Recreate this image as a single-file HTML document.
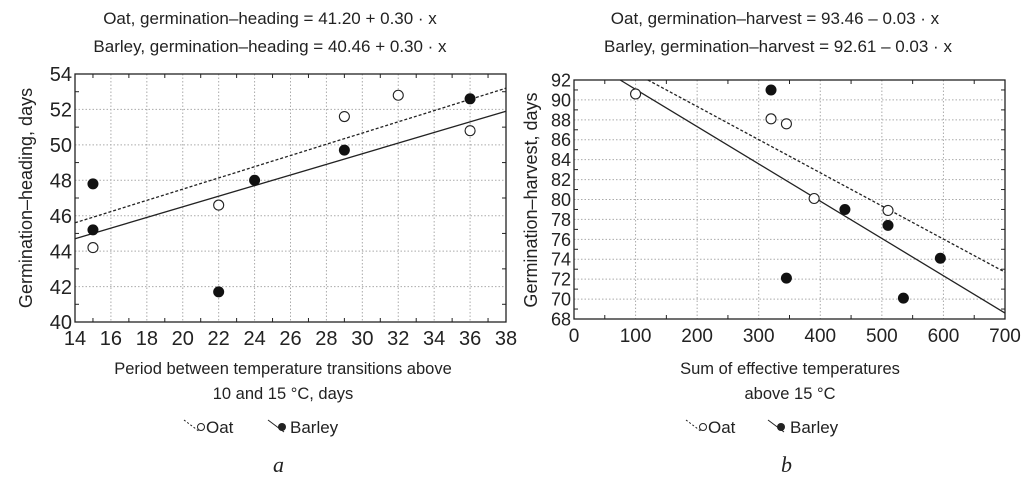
<!DOCTYPE html>
<html><head><meta charset="utf-8"><style>
body{margin:0;background:#fff;width:1024px;height:479px;overflow:hidden}
svg text{font-family:"Liberation Sans Narrow","Liberation Sans",sans-serif;fill:#222}
</style></head><body>
<svg width="1024" height="479">
<text x="270" y="24" font-size="17" text-anchor="middle">Oat, germination–heading = 41.20 + 0.30 · x</text>
<text x="270" y="52" font-size="17" text-anchor="middle">Barley, germination–heading = 40.46 + 0.30 · x</text>
<text x="775" y="24" font-size="17" text-anchor="middle">Oat, germination–harvest = 93.46 – 0.03 · x</text>
<text x="778" y="52" font-size="17" text-anchor="middle">Barley, germination–harvest = 92.61 – 0.03 · x</text>
<g id="ca"></g>
<g id="cb"></g>
<text x="283" y="374" font-size="16.5" text-anchor="middle">Period between temperature transitions above</text>
<text x="283" y="399" font-size="16.5" text-anchor="middle">10 and 15 °C, days</text>
<text x="790" y="374" font-size="16.5" text-anchor="middle">Sum of effective temperatures</text>
<text x="790" y="399" font-size="16.5" text-anchor="middle">above 15 °C</text>
<text x="32" y="198" font-size="18" text-anchor="middle" transform="rotate(-90 32 198)">Germination–heading, days</text>
<text x="537" y="200" font-size="18" text-anchor="middle" transform="rotate(-90 537 200)">Germination–harvest, days</text>
<g>
<line x1="184" y1="420" x2="200" y2="432" stroke="#222" stroke-dasharray="2,2"/><circle cx="201" cy="427" r="3.5" fill="#fff" stroke="#222"/><text x="206" y="433" font-size="17">Oat</text>
<line x1="268" y1="420" x2="284" y2="432" stroke="#222"/><circle cx="282" cy="427" r="4" fill="#222"/><text x="290" y="433" font-size="17">Barley</text></g>
<g>
<line x1="686" y1="420" x2="702" y2="432" stroke="#222" stroke-dasharray="2,2"/><circle cx="703" cy="427" r="3.5" fill="#fff" stroke="#222"/><text x="708" y="433" font-size="17">Oat</text>
<line x1="768" y1="420" x2="784" y2="432" stroke="#222"/><circle cx="781" cy="427" r="4" fill="#222"/><text x="790" y="433" font-size="17">Barley</text></g>
<text x="273" y="472" font-size="22" font-style="italic" style="font-family:'Liberation Serif',serif">a</text>
<text x="781" y="472" font-size="22" font-style="italic" style="font-family:'Liberation Serif',serif">b</text>
</svg>
<script>
const aOatX=[15,22,29,32,36], aOatY=[44.2,46.6,51.6,52.8,50.8];
const aBarX=[15,15,22,24,29,36], aBarY=[47.8,45.2,41.7,48,49.7,52.6];
const aOatFit=[45.6,53.2], aBarFit=[44.7,51.9];
const aXTicks=[14,16,18,20,22,24,26,28,30,32,34,36,38], aYTicks=[40,42,44,46,48,50,52,54];
const bOatX=[100,320,345,390,510], bOatY=[90.6,88.1,87.6,80.1,78.9];
const bBarX=[320,345,440,510,535,595], bBarY=[91,72.1,79,77.4,70.1,74.1];
const bOatFitX=[120,700], bOatFitY=[92,72.7], bBarFitX=[75,700], bBarFitY=[92,68.6];
const bXTicks=[0,100,200,300,400,500,600,700], bYTicks=[68,70,72,74,76,78,80,82,84,86,88,90,92];
const NS='http://www.w3.org/2000/svg';
function mk(g,t,at){const e=document.createElementNS(NS,t);for(const k in at)e.setAttribute(k,at[k]);g.appendChild(e);return e;}
function chart(g,L,R,T,B,x0,x1,y0,y1,xt,yt,oX,oY,bX,bY,oL,bL,fx,fy){
 const sx=v=>L+(v-x0)/(x1-x0)*(R-L), sy=v=>B-(v-y0)/(y1-y0)*(B-T);
 xt.forEach((v,i)=>{const l=mk(g,'line',{x1:sx(v),x2:sx(v),y1:T,y2:B,stroke:'#aaa','stroke-dasharray':'1.5,2'});
 
 if(i<xt.length-1){const m=(sx(v)+sx(xt[i+1]))/2;mk(g,'line',{x1:m,x2:m,y1:B,y2:B-4,stroke:'#222'});mk(g,'line',{x1:m,x2:m,y1:T,y2:T+4,stroke:'#222'});}
 const t=mk(g,'text',{x:sx(v),y:B+23,'font-size':fx,'text-anchor':'middle'});t.textContent=v;
 });
 yt.forEach((v,i)=>{const l=mk(g,'line',{x1:L,x2:R,y1:sy(v),y2:sy(v),stroke:'#aaa','stroke-dasharray':'1.5,2'});
 
 if(i<yt.length-1){const m=(sy(v)+sy(yt[i+1]))/2;mk(g,'line',{x1:L,x2:L+4,y1:m,y2:m,stroke:'#222'});mk(g,'line',{x1:R,x2:R-4,y1:m,y2:m,stroke:'#222'});}
 const t=mk(g,'text',{x:L-3,y:sy(v)+fy*0.36,'font-size':fy,'text-anchor':'end'});t.textContent=v;
 });
 const fr=mk(g,'rect',{x:L,y:T,width:R-L,height:B-T,fill:'none',stroke:'#222','stroke-width':1.3});
 
 const lo=mk(g,'line',{x1:sx(oL[0]),y1:sy(oL[1]),x2:sx(oL[2]),y2:sy(oL[3]),stroke:'#222','stroke-width':1.3,'stroke-dasharray':'3,2'});
 
 const lb=mk(g,'line',{x1:sx(bL[0]),y1:sy(bL[1]),x2:sx(bL[2]),y2:sy(bL[3]),stroke:'#222','stroke-width':1.3});
 
 oX.forEach((v,i)=>{const c=mk(g,'circle',{cx:sx(v),cy:sy(oY[i]),r:5,fill:'#fff',stroke:'#222','stroke-width':1.1});
 });
 bX.forEach((v,i)=>{const c=mk(g,'circle',{cx:sx(v),cy:sy(bY[i]),r:5.5,fill:'#111'});
 });
}
chart(document.getElementById('ca'),75,506,74,322,14,38,40,54,aXTicks,aYTicks,aOatX,aOatY,aBarX,aBarY,
 [14,aOatFit[0],38,aOatFit[1]],[14,aBarFit[0],38,aBarFit[1]],20,20);
chart(document.getElementById('cb'),574,1005,80,319,0,700,68,92,bXTicks,bYTicks,bOatX,bOatY,bBarX,bBarY,
 [bOatFitX[0],bOatFitY[0],bOatFitX[1],bOatFitY[1]],[bBarFitX[0],bBarFitY[0],bBarFitX[1],bBarFitY[1]],19,18);
</script>
</body></html>
